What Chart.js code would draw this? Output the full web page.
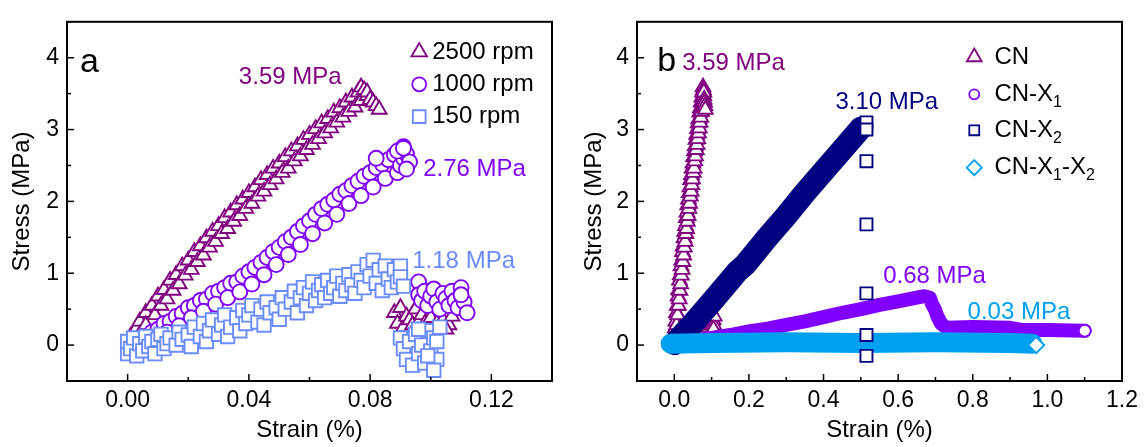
<!DOCTYPE html>
<html lang="en">
<head>
<meta charset="UTF-8">
<title>Stress-strain</title>
<script src="https://cdn.jsdelivr.net/npm/chart.js"></script>
<style>
  body { margin: 0; background: #fff; }
  .row { display: flex; width: 1144px; height: 447px; }
  canvas { display: block; }
</style>
</head>
<body>
<div class="row">
  <canvas id="chartA" width="572" height="447"></canvas>
  <canvas id="chartB" width="572" height="447"></canvas>
</div>

<script>
// ---- data (strain %, stress MPa) ----
const strainTicksA = [0, 0.04, 0.08, 0.12];
const strainLabelsA = ['0.00', '0.04', '0.08', '0.12'];
const strainTicksB = [0, 0.2, 0.4, 0.6, 0.8, 1.0, 1.2];
const strainLabelsB = ['0.0', '0.2', '0.4', '0.6', '0.8', '1.0', '1.2'];
const stressTicks = [0, 1, 2, 3, 4];
const stressLabels = ['0', '1', '2', '3', '4'];

const seriesA = ['2500 rpm', '1000 rpm', '150 rpm'];
const peaksA = ['3.59 MPa', '2.76 MPa', '1.18 MPa'];
const seriesB = ['CN', 'CN-X_1', 'CN-X_2', 'CN-X_1-X_2'];
const peaksB = ['3.59 MPa', '0.68 MPa', '3.10 MPa', '0.03 MPa'];

// 2500 rpm = CN (triangles)
const rpm2500 = [
  [0.001,0.12],[0.003,0.24],[0.004,0.33],[0.006,0.45],[0.008,0.55],[0.010,0.68],[0.012,0.77],[0.014,0.90],
  [0.016,0.98],[0.018,1.10],[0.020,1.18],[0.022,1.30],[0.024,1.38],[0.026,1.49],[0.028,1.58],[0.030,1.66],
  [0.032,1.77],[0.034,1.85],[0.036,1.95],[0.038,2.03],[0.040,2.12],[0.042,2.20],[0.044,2.30],[0.046,2.37],
  [0.048,2.46],[0.050,2.53],[0.052,2.62],[0.054,2.70],[0.056,2.77],[0.058,2.86],[0.060,2.93],[0.062,3.01],
  [0.064,3.09],[0.066,3.15],[0.068,3.24],[0.070,3.30],[0.072,3.38],[0.074,3.45],[0.076,3.52],[0.077,3.59],
  [0.004,0.15],[0.006,0.28],[0.009,0.42],[0.011,0.55],[0.013,0.64],[0.015,0.76],[0.017,0.85],[0.019,0.97],
  [0.021,1.05],[0.023,1.16],[0.025,1.25],[0.027,1.36],[0.029,1.44],[0.031,1.55],[0.033,1.62],[0.035,1.72],
  [0.037,1.80],[0.039,1.90],[0.041,1.97],[0.043,2.07],[0.045,2.14],[0.047,2.23],[0.049,2.31],[0.051,2.40],
  [0.053,2.46],[0.055,2.56],[0.057,2.63],[0.059,2.72],[0.061,2.79],[0.063,2.87],[0.065,2.95],[0.067,3.02],
  [0.069,3.10],[0.071,3.17],[0.073,3.25],[0.075,3.31],[0.077,3.40],[0.079,3.47],
  [0.078,3.55],[0.079,3.52],[0.080,3.42],[0.081,3.38],[0.082,3.33],[0.083,3.28],
  [0.088,0.45],[0.089,0.30],[0.090,0.52],[0.091,0.25],[0.092,0.40],[0.093,0.35],[0.094,0.28],[0.095,0.50],
  [0.096,0.32],[0.097,0.42],[0.098,0.30],[0.100,0.38],[0.102,0.30],[0.104,0.35],[0.106,0.28],[0.107,0.40],
  [0.105,0.22]
];

// 1000 rpm (circles)
const rpm1000 = [
  [0.006,0.10],[0.008,0.18],[0.010,0.22],[0.012,0.30],[0.014,0.33],[0.016,0.40],[0.018,0.44],[0.020,0.52],
  [0.022,0.55],[0.024,0.62],[0.026,0.64],[0.028,0.72],[0.030,0.75],[0.032,0.80],[0.034,0.86],[0.036,0.88],
  [0.038,0.96],[0.040,1.02],[0.042,1.08],[0.044,1.15],[0.046,1.22],[0.048,1.30],[0.050,1.36],[0.052,1.44],
  [0.054,1.50],[0.056,1.58],[0.058,1.66],[0.060,1.73],[0.062,1.82],[0.064,1.90],[0.066,1.96],[0.068,2.02],
  [0.070,2.10],[0.072,2.15],[0.074,2.22],[0.076,2.28],[0.078,2.35],[0.080,2.40],[0.082,2.47],[0.084,2.52],
  [0.086,2.58],[0.088,2.65],[0.090,2.72],[0.091,2.76],
  [0.009,0.08],[0.013,0.18],[0.017,0.27],[0.021,0.38],[0.025,0.47],[0.029,0.57],[0.033,0.66],[0.037,0.74],
  [0.041,0.85],[0.045,0.98],[0.049,1.12],[0.053,1.26],[0.057,1.40],[0.061,1.55],[0.065,1.70],[0.069,1.82],
  [0.073,1.97],[0.077,2.08],[0.081,2.20],[0.085,2.32],[0.089,2.40],
  [0.090,2.50],[0.091,2.60],[0.092,2.66],[0.093,2.55],[0.092,2.45],[0.089,2.70],[0.091,2.74],[0.082,2.60],
  [0.096,0.88],[0.096,0.70],[0.097,0.62],[0.098,0.75],[0.099,0.55],[0.100,0.68],[0.101,0.78],[0.102,0.60],
  [0.103,0.50],[0.104,0.72],[0.105,0.65],[0.106,0.55],[0.107,0.75],[0.108,0.62],[0.109,0.52],[0.110,0.80],
  [0.111,0.60],[0.112,0.45],[0.110,0.70]
];

// 150 rpm (squares)
const rpm150 = [
  [0.000,-0.12],[0.000,0.05],[0.001,-0.05],[0.002,0.10],[0.003,-0.15],[0.004,0.02],[0.005,-0.08],[0.006,0.12],
  [0.007,-0.02],[0.008,0.05],[0.009,-0.12],[0.010,0.08],[0.011,0.15],[0.012,-0.05],[0.013,0.02],[0.014,0.10],
  [0.016,0.00],[0.017,0.18],[0.018,0.08],[0.020,0.14],[0.021,-0.02],[0.022,0.25],[0.024,0.12],[0.025,0.30],
  [0.026,0.05],[0.027,0.20],[0.028,0.35],[0.030,0.15],[0.031,0.28],[0.032,0.42],[0.033,0.12],[0.034,0.25],
  [0.036,0.38],[0.037,0.20],[0.038,0.48],[0.039,0.30],[0.040,0.42],[0.041,0.55],[0.043,0.32],[0.044,0.50],
  [0.045,0.28],[0.046,0.60],[0.047,0.45],[0.049,0.52],[0.050,0.36],[0.051,0.66],[0.052,0.50],[0.054,0.60],
  [0.055,0.75],[0.056,0.45],[0.057,0.66],[0.058,0.80],[0.059,0.55],[0.060,0.72],[0.061,0.88],[0.062,0.62],
  [0.063,0.76],[0.064,0.84],[0.065,0.66],[0.066,0.90],[0.067,0.72],[0.068,0.80],[0.069,0.96],[0.070,0.68],
  [0.071,0.86],[0.072,0.76],[0.073,0.98],[0.074,0.84],[0.075,0.72],[0.076,1.02],[0.077,0.90],[0.078,0.80],
  [0.079,1.12],[0.080,0.96],[0.081,1.18],[0.082,0.86],[0.083,1.05],[0.084,0.76],[0.085,1.10],[0.086,0.92],
  [0.087,0.80],[0.088,1.05],[0.089,0.88],[0.090,1.10],[0.090,0.95],[0.091,0.82],
  [0.090,0.10],[0.091,-0.05],[0.092,-0.20],[0.093,0.05],[0.094,-0.28],[0.095,0.15],[0.096,-0.12],[0.097,0.00],
  [0.098,-0.25],[0.099,0.20],[0.100,-0.08],[0.101,0.10],[0.102,-0.20],[0.103,0.25],[0.101,-0.35],[0.102,0.05],
  [0.099,-0.15],[0.096,0.22]
];

// panel b: dense runs drawn as thick bands
const cnX1Band = [
  [0,0.02],[0.05,0.06],[0.1,0.1],[0.15,0.14],[0.2,0.19],[0.25,0.23],[0.3,0.28],[0.35,0.33],[0.4,0.39],
  [0.45,0.45],[0.5,0.5],[0.55,0.56],[0.6,0.61],[0.64,0.65],[0.67,0.68],[0.685,0.66],[0.69,0.58],[0.7,0.48],
  [0.705,0.40],[0.715,0.30],[0.73,0.24],[0.8,0.25],[0.9,0.24],[0.93,0.21],[1.0,0.21],[1.1,0.2]
];
const cnX1End = [[1.1, 0.2]];
const cnX2Band = [
  [0,0.02],[0.05,0.3],[0.1,0.6],[0.17,1.03],[0.19,1.12],[0.25,1.5],[0.3,1.8],[0.35,2.12],
  [0.4,2.42],[0.45,2.72],[0.5,3.02]
];
const cnX2Tail = [[0.515,3.10],[0.515,3.0],[0.515,2.56],[0.515,1.68],[0.515,0.72],[0.515,0.14],[0.515,-0.15]];
const cnX12Band = [[-0.01,0.02],[0.1,0.03],[0.3,0.04],[0.5,0.03],[0.7,0.04],[0.9,0.03],[0.96,0.02]];
const cnX12End = [[0.97, 0.0]];

// ---- colours ----
const cPurple = '#800080';
const cViolet = '#8000ff';
const cBlue = '#6a8cff';
const cNavy = '#000080';
const cAzure = '#00a0f0';

const FONT = "'Liberation Sans', Arial, sans-serif";
Chart.defaults.font.family = FONT;
Chart.defaults.color = '#000';

const pts = arr => arr.map(p => ({ x: p[0], y: p[1] }));

// text, frame, inward ticks and legend for each panel
const decorByCanvas = {
  chartA: {
    minorX: 0.02, minorY: 0.5,
    letter: { text: 'a', x: -0.0157, y: 3.93 },
    notes: [
      { text: peaksA[0], x: 0.0367, y: 3.73, color: cPurple },
      { text: peaksA[1], x: 0.0975, y: 2.44, color: cViolet },
      { text: peaksA[2], x: 0.0939, y: 1.16, color: cBlue }
    ],
    legend: { mx: 0.0962, tx: 0.1005, rows: [4.08, 3.63, 3.18], items: [
      { text: seriesA[0], style: 'triangle', r: 9, color: cPurple },
      { text: seriesA[1], style: 'circle', r: 7, color: cViolet },
      { text: seriesA[2], style: 'rect', r: 9, color: cBlue }
    ] }
  },
  chartB: {
    minorX: 0.1, minorY: 0.5,
    letter: { text: 'b', x: -0.046, y: 3.95 },
    notes: [
      { text: peaksB[0], x: 0.021, y: 3.92, color: cPurple },
      { text: peaksB[2], x: 0.432, y: 3.38, color: cNavy },
      { text: peaksB[1], x: 0.56, y: 0.95, color: cViolet },
      { text: peaksB[3], x: 0.786, y: 0.45, color: cAzure }
    ],
    legend: { mx: 0.804, tx: 0.858, rows: [4.01, 3.49, 2.99, 2.47], items: [
      { text: seriesB[0], style: 'triangle', r: 8.5, color: cPurple },
      { text: seriesB[1], style: 'circle', r: 5, color: cViolet },
      { text: seriesB[2], style: 'rect', r: 7, color: cNavy },
      { text: seriesB[3], style: 'rectRot', r: 7.5, color: cAzure }
    ] }
  }
};

// label with "_1" style subscripts
function drawLabel(ctx, text, x, y) {
  const parts = text.split(/_(\d)/);
  let cx = x;
  parts.forEach((p, i) => {
    if (!p) return;
    const sub = i % 2 === 1;
    ctx.font = (sub ? '16px ' : '24px ') + FONT;
    ctx.fillText(p, cx, sub ? y + 8 : y);
    cx += ctx.measureText(p).width;
  });
}

const decor = {
  id: 'decor',
  afterDatasetsDraw(chart) {
    const d = decorByCanvas[chart.canvas.id];
    const ctx = chart.ctx;
    const a = chart.chartArea;
    const xs = chart.scales.x, ys = chart.scales.y;
    ctx.save();

    // inward ticks, left and bottom only
    ctx.strokeStyle = '#000';
    ctx.lineWidth = 1.5;
    const tick = (x1, y1, x2, y2) => { ctx.beginPath(); ctx.moveTo(x1, y1); ctx.lineTo(x2, y2); ctx.stroke(); };
    for (let k = Math.ceil(xs.min / d.minorX - 1e-6); k * d.minorX <= xs.max + 1e-9; k++) {
      const v = k * d.minorX;
      const major = xs.ticks.some(t => Math.abs(t.value - v) < 1e-6);
      const px = xs.getPixelForValue(v);
      tick(px, a.bottom, px, a.bottom - (major ? 7 : 4));
    }
    for (let k = Math.ceil(ys.min / d.minorY - 1e-6); k * d.minorY <= ys.max + 1e-9; k++) {
      const v = k * d.minorY;
      const major = ys.ticks.some(t => Math.abs(t.value - v) < 1e-6);
      const py = ys.getPixelForValue(v);
      tick(a.left, py, a.left + (major ? 7 : 4), py);
    }

    // frame
    ctx.lineWidth = 2;
    ctx.strokeRect(a.left, a.top, a.right - a.left, a.bottom - a.top);

    ctx.textBaseline = 'middle';
    ctx.textAlign = 'left';

    // panel letter
    ctx.fillStyle = '#000';
    ctx.font = '34px ' + FONT;
    ctx.fillText(d.letter.text, xs.getPixelForValue(d.letter.x), ys.getPixelForValue(d.letter.y));

    // peak notes
    ctx.font = '24px ' + FONT;
    d.notes.forEach(n => {
      ctx.fillStyle = n.color;
      ctx.fillText(n.text, xs.getPixelForValue(n.x), ys.getPixelForValue(n.y));
    });

    // legend
    const lg = d.legend;
    lg.items.forEach((it, i) => {
      const py = ys.getPixelForValue(lg.rows[i]);
      ctx.strokeStyle = it.color;
      ctx.fillStyle = '#fff';
      ctx.lineWidth = 1.8;
      Chart.helpers.drawPoint(ctx, { pointStyle: it.style, radius: it.r, rotation: 0, borderWidth: 1.8 },
        xs.getPixelForValue(lg.mx), py);
      ctx.fillStyle = '#000';
      drawLabel(ctx, it.text, xs.getPixelForValue(lg.tx), py);
    });

    ctx.restore();
  }
};

function makeScales(xMin, xMax, xTicks, xLabels, yAxisWidth) {
  return {
    x: {
      type: 'linear', min: xMin, max: xMax,
      afterBuildTicks: s => { s.ticks = xTicks.map(v => ({ value: v })); },
      afterFit: s => { s.height = 66; },
      grid: { display: false, drawTicks: false },
      border: { display: false },
      ticks: { padding: 6, font: { size: 23 }, maxRotation: 0, autoSkip: false,
               callback: (v, i) => xLabels[i] },
      title: { display: true, text: 'Strain (%)', font: { size: 24 }, padding: { top: 0, bottom: 2 } }
    },
    y: {
      type: 'linear', min: -0.5, max: 4.5,
      afterBuildTicks: s => { s.ticks = stressTicks.map(v => ({ value: v })); },
      afterFit: s => { s.width = yAxisWidth; },
      grid: { display: false, drawTicks: false },
      border: { display: false },
      ticks: { padding: 8, font: { size: 23 }, autoSkip: false,
               callback: (v, i) => stressLabels[i] },
      title: { display: true, text: 'Stress (MPa)', font: { size: 24 }, padding: { top: 8, bottom: 0 } }
    }
  };
}

const marker = (data, style, r, color, order) => ({
  data: pts(data), pointStyle: style, pointRadius: r, borderWidth: 1.9,
  borderColor: color, backgroundColor: '#fff', order: order
});
const band = (data, width, color, order) => ({
  data: pts(data), showLine: true, pointRadius: 0, borderWidth: width,
  borderColor: color, backgroundColor: color, borderCapStyle: 'round', borderJoinStyle: 'round',
  tension: 0, order: order
});

new Chart(document.getElementById('chartA'), {
  type: 'scatter',
  data: {
    datasets: [
      marker(rpm150, 'rect', 9.5, cBlue, 1),
      marker(rpm1000, 'circle', 7.5, cViolet, 2),
      marker(rpm2500, 'triangle', 8.5, cPurple, 3)
    ]
  },
  options: {
    responsive: false, animation: false,
    layout: { padding: { left: 0, right: 20, top: 16, bottom: 0 } },
    plugins: { legend: { display: false }, tooltip: { enabled: false } },
    scales: makeScales(-0.02, 0.14, strainTicksA, strainLabelsA, 67)
  },
  plugins: [decor]
});

new Chart(document.getElementById('chartB'), {
  type: 'scatter',
  data: {
    datasets: [
      marker(cnX12End, 'rectRot', 8, cAzure, 0),
      marker(cnX1End, 'circle', 6, cViolet, 0),
      marker(cnX2Tail, 'rect', 8.5, cNavy, 1),
      band(cnX12Band, 20, cAzure, 2),
      band(cnX2Band, 23, cNavy, 3),
      band(cnX1Band, 14, cViolet, 4),
      marker(rpm2500, 'triangle', 8.5, cPurple, 5)
    ]
  },
  options: {
    responsive: false, animation: false,
    layout: { padding: { left: 0, right: 21, top: 16, bottom: 0 } },
    plugins: { legend: { display: false }, tooltip: { enabled: false } },
    scales: makeScales(-0.1, 1.2, strainTicksB, strainLabelsB, 65)
  },
  plugins: [decor]
});
</script>
</body>
</html>
